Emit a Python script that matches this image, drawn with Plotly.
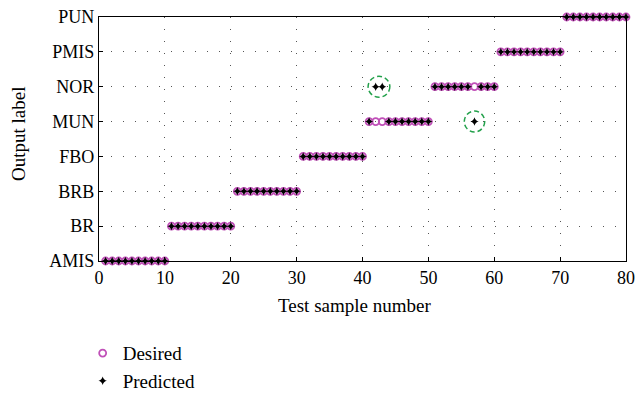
import plotly.graph_objects as go
import numpy as np

labels = ["AMIS", "BR", "BRB", "FBO", "MUN", "NOR", "PMIS", "PUN"]
samples = list(range(1, 81))
desired = [0]*10 + [1]*10 + [2]*10 + [3]*10 + [4]*10 + [5]*10 + [6]*10 + [7]*10
predicted = ([0]*10 + [1]*10 + [2]*10 + [3]*10 +
             [4, 5, 5, 4, 4, 4, 4, 4, 4, 4] +
             [5, 5, 5, 5, 5, 5, 4, 5, 5, 5] +
             [6]*10 + [7]*10)

fig = go.Figure()
fig.add_trace(go.Scatter(
    x=samples, y=desired, mode="markers", name="Desired",
    marker=dict(symbol="circle-open", size=7, color="#c050b8", line=dict(width=1.8)),
))
fig.add_trace(go.Scatter(
    x=samples, y=predicted, mode="markers", name="Predicted",
    marker=dict(symbol="star-diamond", size=6, color="black", line=dict(width=0)),
))

# green dashed circles around misclassified predictions (grouped consecutive)
groups = []
for s, d, p in zip(samples, desired, predicted):
    if d != p:
        if groups and groups[-1][2] == p and groups[-1][1] == s - 1:
            groups[-1][1] = s
        else:
            groups.append([s, s, p])
for a, b, p in groups:
    xc = (a + b) / 2
    hw = 1.55 + (b - a) * 0.1
    fig.add_shape(type="circle", xref="x", yref="y",
                  x0=xc - hw, x1=xc + hw, y0=p - 0.3, y1=p + 0.3,
                  line=dict(color="#22a04a", width=1.5, dash="5px,3px"))

font = "Liberation Serif, Times New Roman, serif"
fig.update_layout(
    width=636, height=410,
    margin=dict(l=99, r=10, t=17, b=138),
    plot_bgcolor="white", paper_bgcolor="white",
    font=dict(family=font, size=18, color="black"),
    showlegend=True,
    legend=dict(x=-0.031, y=-0.30, xanchor="left", yanchor="top",
                font=dict(family=font, size=19), bgcolor="rgba(0,0,0,0)",
                tracegroupgap=0),
    annotations=[
        dict(text="Test sample number", xref="paper", yref="paper", x=0.485, y=-0.184,
             xanchor="center", yanchor="middle", showarrow=False,
             font=dict(family=font, size=19)),
        dict(text="Output label", xref="paper", yref="paper", x=-0.154, y=0.52,
             xanchor="center", yanchor="middle", showarrow=False, textangle=-90,
             font=dict(family=font, size=19)),
    ],
)
grid = dict(showgrid=True, gridcolor="#555555", griddash="1px,11px", gridwidth=1,
            showline=True, linecolor="black", linewidth=1.3, mirror=True,
            ticks="inside", ticklen=4, tickcolor="black", zeroline=False,
            automargin=False)
fig.update_xaxes(range=[0, 80], tickvals=list(range(0, 81, 10)), **grid)
fig.update_yaxes(range=[0, 7], tickvals=list(range(8)), ticktext=labels, **grid)
fig.update_traces(cliponaxis=False)
fig.write_html("out.html")
